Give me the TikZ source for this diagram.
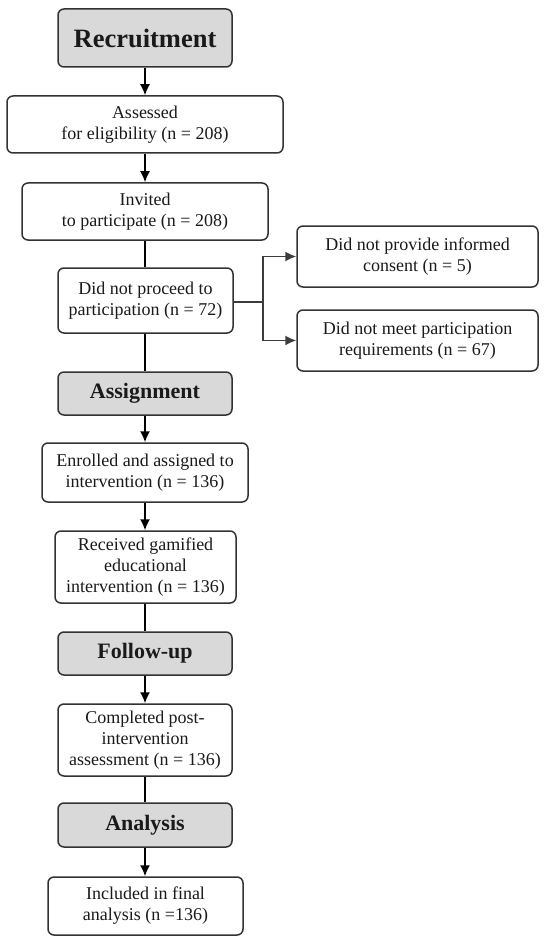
\documentclass[tikz,border=0pt]{standalone}
\usepackage{fontspec}
\setmainfont{Liberation Serif}
\usetikzlibrary{arrows.meta}
\definecolor{bordc}{HTML}{333333}
\definecolor{headfill}{HTML}{D9D9D9}
\definecolor{txtc}{HTML}{1A1A1A}
\definecolor{sidec}{HTML}{3C3C3C}
\tikzset{
  box/.style={draw=bordc, line width=1.5pt, rounded corners=6pt, fill=white, align=center,
    inner sep=0pt, text=txtc, font=\fontsize{18}{21}\selectfont},
  head/.style={box, fill=headfill, font=\fontsize{22}{24}\selectfont\bfseries},
  conn/.style={line width=1.6pt, draw=black},
  arr/.style={conn, -{Latex[length=11pt,width=10pt]}},
  sidearr/.style={line width=1.6pt, draw=sidec, -{Latex[length=11pt,width=10pt]}},
}
\begin{document}
\begin{tikzpicture}[x=1pt,y=-1pt]
\useasboundingbox (0,0) rectangle (550,944);
\node[head, minimum width=174pt, minimum height=58pt, font=\fontsize{26.5}{28}\selectfont\bfseries] (rec) at (145,38) {Recruitment};
\node[box, minimum width=276pt, minimum height=57pt] (ass) at (145,124.5) {Assessed\\for eligibility (n = 208)};
\node[box, minimum width=246pt, minimum height=57pt] (inv) at (145,211.5) {Invited\\to participate (n = 208)};
\node[box, minimum width=175pt, minimum height=65pt] (dnp) at (145.5,300.5) {Did not proceed to\\participation (n = 72)};
\node[box, minimum width=241pt, minimum height=61pt] (s1) at (417.5,256.5) {Did not provide informed\\consent (n = 5)};
\node[box, minimum width=241pt, minimum height=61pt] (s2) at (417.5,340.5) {Did not meet participation\\requirements (n = 67)};
\node[head, minimum width=174pt, minimum height=43pt] (asg) at (145,393.5) {Assignment};
\node[box, minimum width=206pt, minimum height=59pt] (enr) at (145,472.5) {Enrolled and assigned to\\intervention (n = 136)};
\node[box, minimum width=181pt, minimum height=72pt] (rcv) at (145.5,567) {Received gamified\\educational\\intervention (n = 136)};
\node[head, minimum width=174pt, minimum height=43pt] (fol) at (145,653.5) {Follow-up};
\node[box, minimum width=174pt, minimum height=72pt] (cmp) at (145,740) {Completed post-\\intervention\\assessment (n = 136)};
\node[head, minimum width=174pt, minimum height=44pt] (ana) at (145,825) {Analysis};
\node[box, minimum width=195pt, minimum height=58pt] (inc) at (145.5,906) {Included in final\\analysis (n =136)};
\coordinate (jn) at (263,302);
\draw[arr] (rec.south -| 145,0) -- (ass.north -| 145,0);
\draw[arr] (ass.south -| 145,0) -- (inv.north -| 145,0);
\draw[conn] (inv.south -| 145,0) -- (dnp.north -| 145,0);
\draw[conn] (dnp.south -| 145,0) -- (asg.north -| 145,0);
\draw[arr] (asg.south -| 145,0) -- (enr.north -| 145,0);
\draw[arr] (enr.south -| 145,0) -- (rcv.north -| 145,0);
\draw[conn] (rcv.south -| 145,0) -- (fol.north -| 145,0);
\draw[arr] (fol.south -| 145,0) -- (cmp.north -| 145,0);
\draw[conn] (cmp.south -| 145,0) -- (ana.north -| 145,0);
\draw[arr] (ana.south -| 145,0) -- (inc.north -| 145,0);
\draw[line width=1.6pt, draw=sidec] (dnp.east |- jn) -- (jn);
\draw[sidearr] (jn) |- (s1.west);
\draw[sidearr] (jn) |- (s2.west);
\end{tikzpicture}
\end{document}
